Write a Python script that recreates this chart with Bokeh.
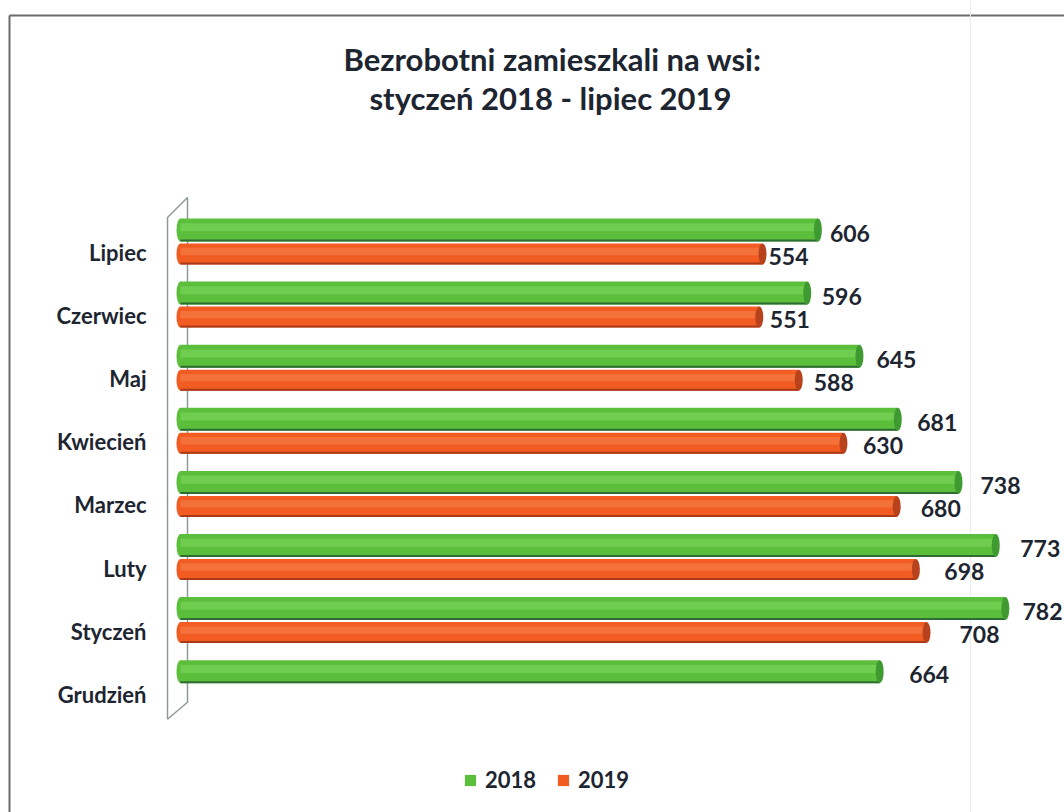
import numpy as np
from bokeh.plotting import figure
from bokeh.models import ColumnDataSource, Range1d, Legend, LegendItem
from bokeh.core.properties import value
from bokeh.embed import file_html
from bokeh.resources import INLINE

# ---------------- data ----------------
months = ["Lipiec", "Czerwiec", "Maj", "Kwiecień", "Marzec", "Luty", "Styczeń", "Grudzień"]
values_2018 = [606, 596, 645, 681, 738, 773, 782, 664]
months_2019 = ["Lipiec", "Czerwiec", "Maj", "Kwiecień", "Marzec", "Luty", "Styczeń"]
values_2019 = [554, 551, 588, 630, 680, 698, 708]
series = ["2018", "2019"]
title_lines = ["Bezrobotni zamieszkali na wsi:", "styczeń 2018 - lipiec 2019"]

# ---------------- layout helpers ----------------
W, H = 1064, 812
X0 = 176.0     # pixel of value 0
SX = 1.065     # pixels per unit
Y0 = 253.5     # pixel of first category row
PITCH = 63.1   # pixels between rows

def dx(px): return px / SX
def xd(px): return (px - X0) / SX
def dy(px): return px / PITCH
def yd(py): return (py - Y0) / PITCH

FONT = value("Lato")
TXT = "#1d2530"
GREEN, GREEN_HI, GREEN_DK, GREEN_CAP = "#5cbf3c", "#80d85e", "#2f6b35", "#3f9a31"
RED, RED_HI, RED_DK, RED_CAP = "#f25c22", "#f8844f", "#a83a18", "#b8421c"

p = figure(width=W, height=H,
           x_range=Range1d(xd(0), xd(W)), y_range=Range1d(yd(H), yd(0)),
           output_backend="svg", toolbar_location=None, min_border=0,
           x_axis_type=None, y_axis_type=None, outline_line_color=None)
p.grid.visible = False
p.background_fill_color = "white"
p.border_fill_color = "white"

# page frame (scan border) and faint scan line
p.segment(x0=[xd(9), xd(9)], y0=[yd(15), yd(15)], x1=[xd(9), xd(W + 5)], y1=[yd(H + 5), yd(15)],
          line_color="#6f6a6a", line_width=2)
p.segment(x0=[xd(970)], y0=[yd(0)], x1=[xd(970)], y1=[yd(H)], line_color="#ececec", line_width=1)

rows18 = np.arange(len(months), dtype=float)
rows19 = np.arange(len(months_2019), dtype=float)
hg = dy(23)
hr = dy(21)
yg = rows18 - dy(24)
yr = rows19
cap = dx(8)

# 3D side wall
top_r = yg[0] - hg / 2 - dy(21)
bot_r = yg[-1] + hg / 2 + dy(19)
p.patch(x=[-dx(9), dx(11), dx(11), -dx(9)],
        y=[top_r + dy(20), top_r, bot_r, bot_r + dy(17)],
        fill_color="white", line_color="#8c9a9a", line_width=1.5)

def cylinder(ys, vals, h, base, hi, dk, capc):
    vals = np.array(vals, dtype=float)
    src = ColumnDataSource(dict(y=ys, left=np.full(len(vals), cap / 2), right=vals - cap / 2,
                                lx=np.full(len(vals), cap / 2), rx=vals - cap / 2,
                                yh=ys - h * 0.12, yb=ys + h / 2 - dy(1)))
    r = p.hbar(y="y", left="left", right="right", height=h, source=src,
               fill_color=base, line_color=None)
    p.ellipse(x="lx", y="y", width=cap, height=h, source=src, fill_color=base, line_color=None)
    p.hbar(y="yh", left="left", right="right", height=h * 0.35, source=src,
           fill_color=hi, fill_alpha=0.55, line_color=None)
    p.hbar(y="yb", left="left", right="right", height=dy(2), source=src,
           fill_color=dk, line_color=None)
    p.ellipse(x="rx", y="y", width=cap, height=h, source=src, fill_color=capc, line_color=None)
    return r

r18 = cylinder(yg, values_2018, hg, GREEN, GREEN_HI, GREEN_DK, GREEN_CAP)
r19 = cylinder(yr, values_2019, hr, RED, RED_HI, RED_DK, RED_CAP)

# value labels (kept inside the page: label width ~41px)
def lab_x(v, off):
    end_px = X0 + v * SX
    off = min(off, W - 42 - end_px)
    return v + dx(off)

lab18 = ColumnDataSource(dict(
    x=[lab_x(v, 8 + 2.5 * i) for i, v in enumerate(values_2018)],
    y=list(yg + dy(3)), t=[str(v) for v in values_2018]))
lab19 = ColumnDataSource(dict(
    x=[lab_x(v, 2 + 4.5 * i) for i, v in enumerate(values_2019)],
    y=list(yr + dy(2)), t=[str(v) for v in values_2019]))
for s in (lab18, lab19):
    p.text(x="x", y="y", text="t", source=s, text_font=FONT, text_font_style="bold",
           text_font_size="23px", text_color=TXT, text_baseline="middle", text_align="left")

# category labels
cat = ColumnDataSource(dict(x=[xd(146)] * len(months), y=list(rows18 - dy(1.5)), t=months))
p.text(x="x", y="y", text="t", source=cat, text_font=FONT, text_font_style="bold",
       text_font_size="22px", text_color=TXT, text_baseline="middle", text_align="right")

# title
tsrc = ColumnDataSource(dict(x=[xd(552), xd(550)], y=[yd(58), yd(97)], t=title_lines))
p.text(x="x", y="y", text="t", source=tsrc, text_font=FONT, text_font_style="bold",
       text_font_size="31px", text_color=TXT, text_baseline="middle", text_align="center")

legend = Legend(items=[LegendItem(label=series[0], renderers=[r18]),
                       LegendItem(label=series[1], renderers=[r19])],
                orientation="horizontal", location=(463, 19),
                glyph_width=14, glyph_height=14, label_standoff=8, spacing=20,
                padding=0, margin=0, border_line_color=None, background_fill_alpha=0,
                label_text_font="Lato", label_text_font_style="bold",
                label_text_font_size="22px", label_text_color=TXT)
p.add_layout(legend)

open("out.html", "w").write(file_html(p, INLINE))
